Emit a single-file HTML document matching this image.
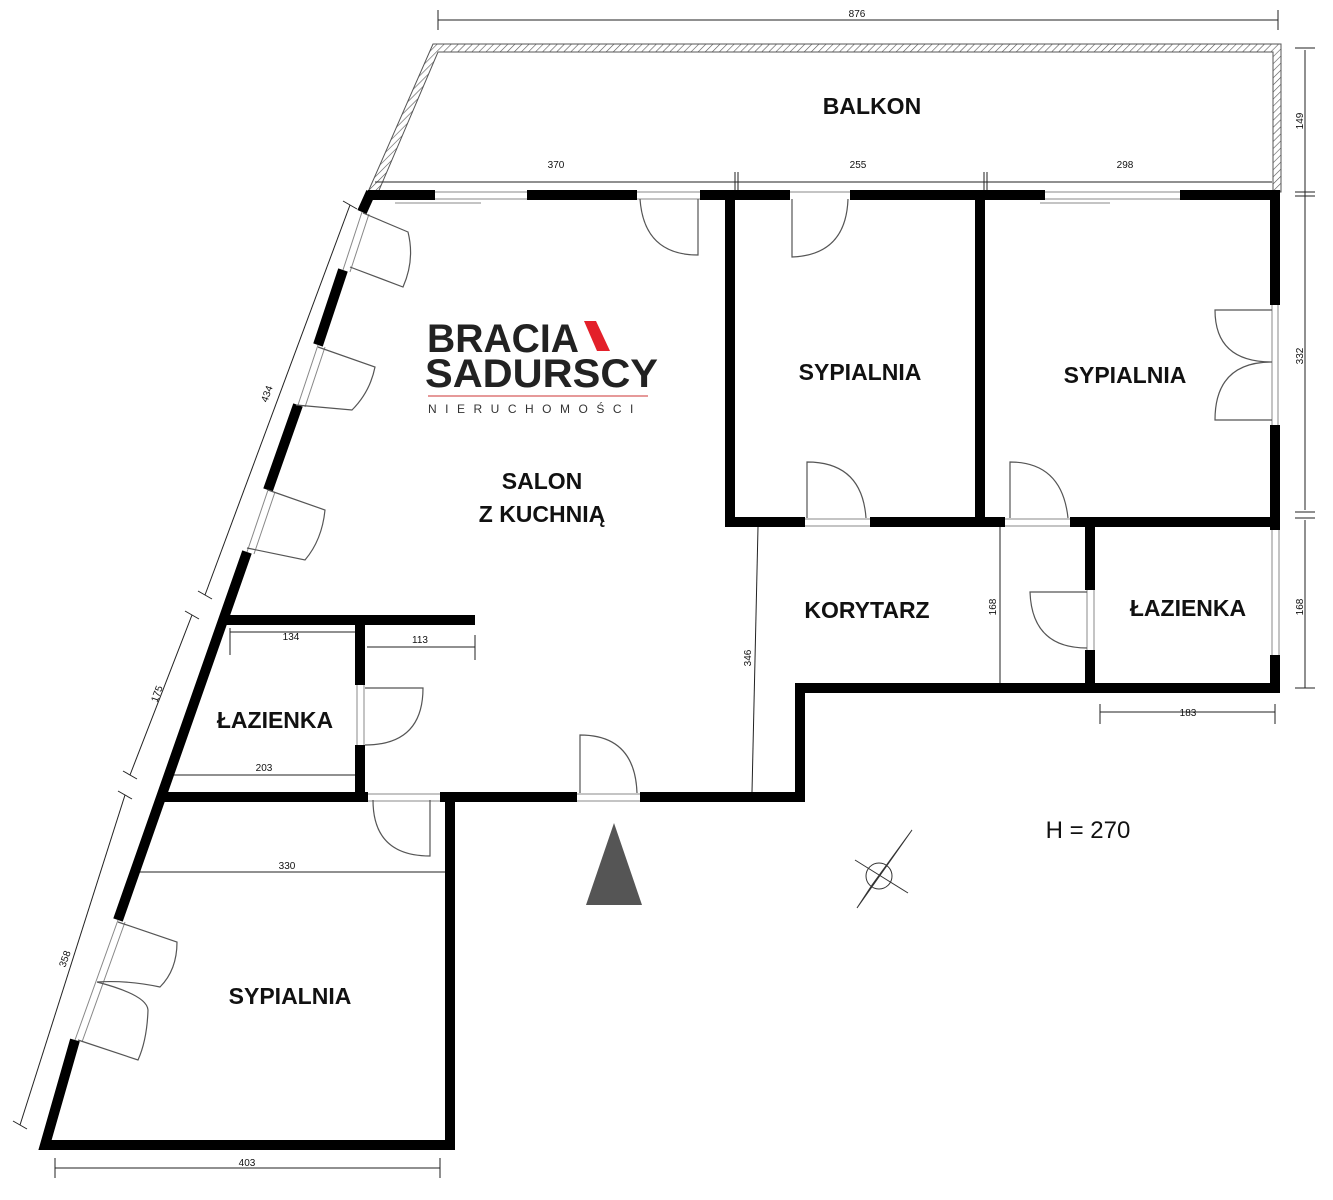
<!DOCTYPE html>
<html><head><meta charset="utf-8"><style>
body{margin:0;background:#fff}
svg{display:block}
text{font-family:"Liberation Sans",sans-serif;fill:#111}
.r{font-size:23px;font-weight:bold}
.d{font-size:10px}
</style></head><body>
<svg width="1333" height="1200" viewBox="0 0 1333 1200" xmlns="http://www.w3.org/2000/svg">
<defs><pattern id="h" width="5" height="5" patternUnits="userSpaceOnUse" patternTransform="rotate(45)"><line x1="0" y1="0" x2="0" y2="5" stroke="#555" stroke-width="1.2"/></pattern></defs>
<g fill="url(#h)" stroke="#555" stroke-width="1">
<polygon points="433,44 1281,44 1281,192 1273,192 1273,52 438,52 377,195 368,192"/>
</g>
<text class="r" x="872" y="114" text-anchor="middle">BALKON</text>
<g stroke="#222" stroke-width="1" fill="none">
<line x1="438" y1="20" x2="1278" y2="20"/><line x1="438" y1="10" x2="438" y2="30"/><line x1="1278" y1="10" x2="1278" y2="30"/>
<line x1="375" y1="182" x2="1272" y2="182"/><line x1="735" y1="172" x2="735" y2="192"/><line x1="738" y1="172" x2="738" y2="192"/><line x1="984" y1="172" x2="984" y2="192"/><line x1="987" y1="172" x2="987" y2="192"/>
<line x1="1305" y1="50" x2="1305" y2="510"/><line x1="1295" y1="48" x2="1315" y2="48"/><line x1="1295" y1="192" x2="1315" y2="192"/><line x1="1295" y1="196" x2="1315" y2="196"/><line x1="1295" y1="512" x2="1315" y2="512"/>
<line x1="1305" y1="520" x2="1305" y2="688"/><line x1="1295" y1="518" x2="1315" y2="518"/><line x1="1295" y1="688" x2="1315" y2="688"/>
<line x1="1100" y1="712" x2="1275" y2="712"/><line x1="1100" y1="704" x2="1100" y2="724"/><line x1="1275" y1="704" x2="1275" y2="724"/>
<line x1="1000" y1="522" x2="1000" y2="688"/>
<line x1="758" y1="527" x2="752" y2="792"/>
<line x1="230" y1="632" x2="355" y2="632"/><line x1="230" y1="628" x2="230" y2="655"/>
<line x1="367" y1="647" x2="475" y2="647"/><line x1="475" y1="635" x2="475" y2="660"/>
<line x1="172" y1="775" x2="355" y2="775"/>
<line x1="135" y1="872" x2="445" y2="872"/>
<line x1="55" y1="1168" x2="440" y2="1168"/><line x1="55" y1="1158" x2="55" y2="1178"/><line x1="440" y1="1158" x2="440" y2="1178"/>
<line x1="350" y1="205" x2="205" y2="595"/><line x1="343" y1="201" x2="357" y2="209"/><line x1="198" y1="591" x2="212" y2="599"/>
<line x1="192" y1="615" x2="130" y2="775"/><line x1="185" y1="611" x2="199" y2="619"/><line x1="123" y1="771" x2="137" y2="779"/>
<line x1="125" y1="795" x2="20" y2="1125"/><line x1="118" y1="791" x2="132" y2="799"/><line x1="13" y1="1121" x2="27" y2="1129"/>
</g>
<g class="d">
<text x="857" y="17" text-anchor="middle">876</text>
<text x="556" y="168" text-anchor="middle">370</text>
<text x="858" y="168" text-anchor="middle">255</text>
<text x="1125" y="168" text-anchor="middle">298</text>
<text x="1188" y="716" text-anchor="middle">183</text>
<text x="291" y="640" text-anchor="middle">134</text>
<text x="420" y="643" text-anchor="middle">113</text>
<text x="264" y="771" text-anchor="middle">203</text>
<text x="287" y="869" text-anchor="middle">330</text>
<text x="247" y="1166" text-anchor="middle">403</text>
<text transform="translate(1303,121) rotate(-90)" text-anchor="middle">149</text>
<text transform="translate(1303,356) rotate(-90)" text-anchor="middle">332</text>
<text transform="translate(1303,607) rotate(-90)" text-anchor="middle">168</text>
<text transform="translate(996,607) rotate(-90)" text-anchor="middle">168</text>
<text transform="translate(751,658) rotate(-90)" text-anchor="middle">346</text>
<text transform="translate(270,395) rotate(-70)" text-anchor="middle">434</text>
<text transform="translate(160,695) rotate(-70)" text-anchor="middle">175</text>
<text transform="translate(68,960) rotate(-70)" text-anchor="middle">358</text>
</g>
<g stroke="#000" stroke-width="10" fill="none">
<path d="M368,195 L435,195 M527,195 L637,195 M700,195 L790,195 M850,195 L1045,195 M1180,195 L1275,195"/>
<path d="M1275,190 L1275,305 M1275,425 L1275,530 M1275,655 L1275,693"/>
<path d="M800,688 L1280,688 M800,683 L800,802 M445,797 L577,797 M640,797 L805,797"/>
<path d="M730,195 L730,527 M980,195 L980,527 M725,522 L805,522 M870,522 L1005,522 M1070,522 L1275,522 M1090,522 L1090,590 M1090,650 L1090,690"/>
<path d="M371,192 L362,212 M343,270 L318,345 M298,405 L268,490 M247,552 L118,920 M75,1040 L45,1145 L450,1145 L450,797"/>
<path d="M225,620 L475,620 M360,620 L360,685 M360,745 L360,797 M160,797 L368,797 M440,797 L450,797"/>
</g>
<g stroke="#888" stroke-width="1" fill="none">
<path d="M435,192 L527,192 M435,199 L527,199 M395,203 L481,203 M637,192 L700,192 M637,199 L700,199 M790,192 L850,192 M1045,192 L1180,192 M1045,199 L1180,199 M1040,203 L1110,203"/>
<path d="M1272,305 L1272,425 M1278,305 L1278,425 M1272,530 L1272,655 M1279,530 L1279,655"/>
<path d="M577,794 L640,794 M577,801 L640,801 M368,794 L440,794 M368,801 L440,801 M357,685 L357,745 M364,685 L364,745"/>
<path d="M805,519 L870,519 M805,526 L870,526 M1005,519 L1070,519 M1005,526 L1070,526 M1087,590 L1087,650 M1094,590 L1094,650"/>
<path d="M75,1040 L118,920 M82,1042 L125,922 M343,270 L362,212 M350,272 L369,214 M298,405 L318,345 M305,407 L325,347 M247,552 L268,490 M254,554 L275,492"/>
</g>
<g stroke="#555" stroke-width="1.2" fill="none">
<path d="M698,199 L698,255 Q644,255 640,199"/>
<path d="M792,199 L792,257 Q846,255 848,199"/>
<path d="M807,518 L807,462 Q862,462 866,518"/>
<path d="M1010,518 L1010,462 Q1062,462 1068,518"/>
<path d="M1272,310 L1215,310 Q1215,362 1272,362 Q1215,362 1215,420 L1272,420"/>
<path d="M1087,592 L1030,592 Q1032,648 1087,648"/>
<path d="M365,688 L423,688 Q423,745 365,745"/>
<path d="M580,793 L580,735 Q635,735 637,793"/>
<path d="M373,800 Q373,856 430,856 L430,800"/>
<path d="M363,213 L408,232 Q415,260 403,287 L350,267"/>
<path d="M318,347 L375,367 Q370,392 352,410 L296,405"/>
<path d="M268,490 L325,510 Q322,540 305,560 L247,548"/>
<path d="M118,922 L177,942 Q177,970 160,987 Q127,980 97,982 M97,982 Q147,995 148,1010 Q147,1040 138,1060 L78,1040"/>
</g>
<g class="r" text-anchor="middle">
<text x="860" y="380">SYPIALNIA</text>
<text x="1125" y="383">SYPIALNIA</text>
<text x="542" y="489">SALON</text>
<text x="542" y="522">Z KUCHNIĄ</text>
<text x="867" y="618">KORYTARZ</text>
<text x="1188" y="616">ŁAZIENKA</text>
<text x="275" y="728">ŁAZIENKA</text>
<text x="290" y="1004">SYPIALNIA</text>
<text x="1088" y="838" style="font-weight:normal;font-size:24px">H = 270</text>
</g>
<text x="427" y="352" textLength="152" lengthAdjust="spacingAndGlyphs" style="font-size:40px;font-weight:bold;fill:#222">BRACIA</text>
<polygon points="584,321 596,321 610,351 597,351" fill="#e3202a"/>
<text x="425" y="387" textLength="233" lengthAdjust="spacingAndGlyphs" style="font-size:40px;font-weight:bold;fill:#222">SADURSCY</text>
<line x1="428" y1="396" x2="648" y2="396" stroke="#c33" stroke-width="1"/>
<text x="428" y="413" style="font-size:12px;letter-spacing:8.5px;fill:#333">NIERUCHOMOŚCI</text>
<polygon points="614,823 586,905 642,905" fill="#555"/>
<g stroke="#333" stroke-width="1" fill="none">
<circle cx="879" cy="876" r="13"/>
<line x1="855" y1="860" x2="908" y2="893"/>
<path d="M912,830 L857,908 L872,885 Z"/>
</g>
</svg>
</body></html>
